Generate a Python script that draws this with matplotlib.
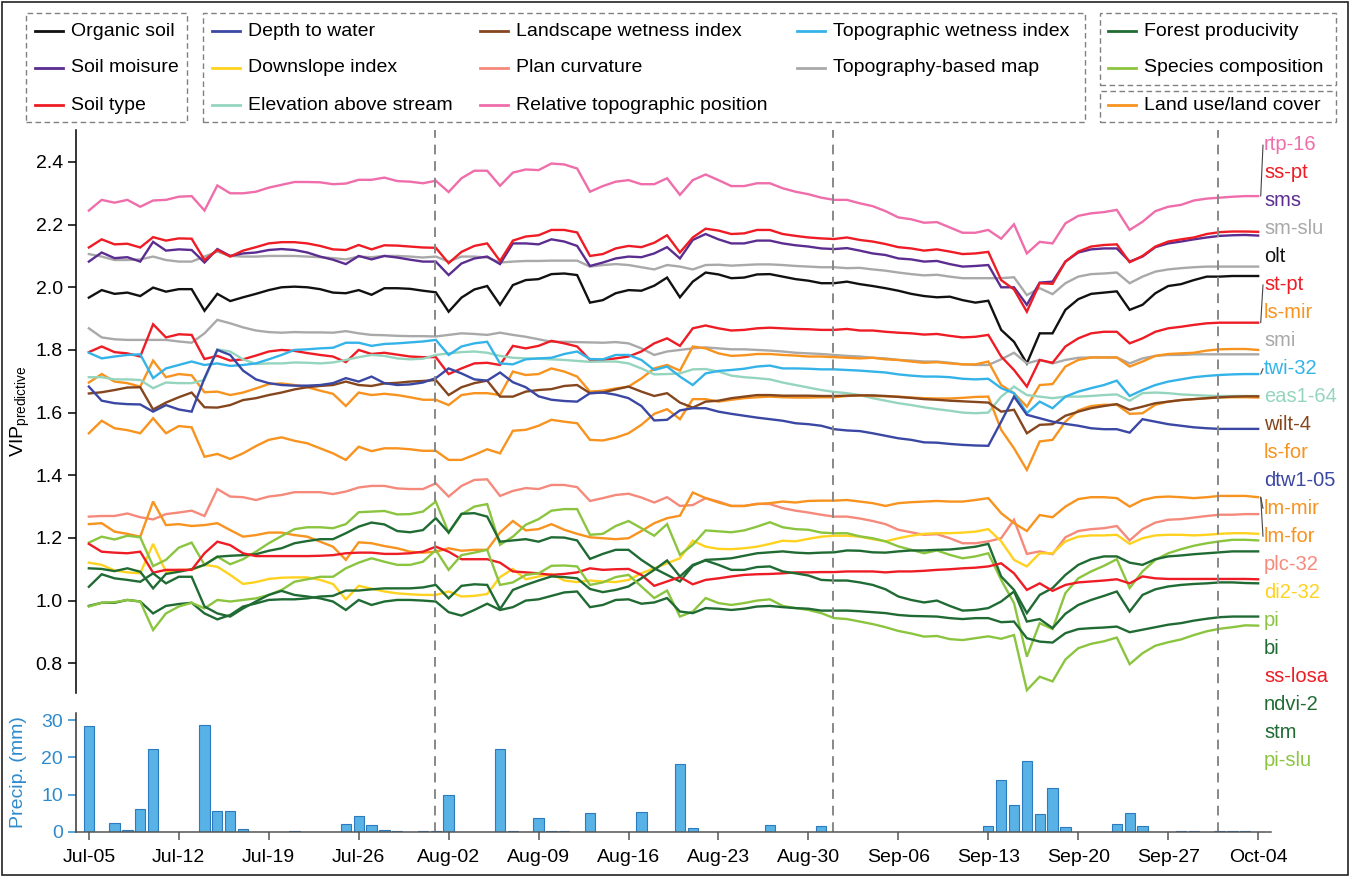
import numpy as np
import pandas as pd
import matplotlib
matplotlib.use('Agg')
import matplotlib.pyplot as plt
from matplotlib.patches import Rectangle, ConnectionPatch
from matplotlib.lines import Line2D

plt.rcParams['font.family'] = ['Liberation Sans', 'DejaVu Sans']
plt.rcParams['mathtext.fontset'] = 'custom'
plt.rcParams['mathtext.rm'] = 'Liberation Sans'
plt.rcParams['mathtext.it'] = 'Liberation Sans:italic'

# daily series, 5 July - 4 October
dates = pd.date_range('2021-07-05', '2021-10-04', freq='D')

rtp = [2.245, 2.279, 2.270, 2.279, 2.257, 2.277, 2.279, 2.289, 2.291, 2.245,
       2.325, 2.300, 2.300, 2.305, 2.318, 2.327, 2.336, 2.336, 2.335, 2.329,
       2.331, 2.343, 2.343, 2.350, 2.339, 2.337, 2.332, 2.340, 2.304, 2.348,
       2.372, 2.372, 2.324, 2.366, 2.376, 2.374, 2.395, 2.392, 2.379, 2.305,
       2.323, 2.337, 2.342, 2.329, 2.329, 2.348, 2.295, 2.342, 2.360, 2.342,
       2.323, 2.323, 2.332, 2.332, 2.316, 2.305, 2.297, 2.286, 2.279, 2.279,
       2.268, 2.259, 2.243, 2.223, 2.217, 2.206, 2.208, 2.191, 2.174, 2.174,
       2.183, 2.155, 2.201, 2.108, 2.145, 2.140, 2.204, 2.228, 2.236, 2.240,
       2.247, 2.183, 2.209, 2.243, 2.257, 2.263, 2.277, 2.283, 2.286, 2.289,
       2.291, 2.291]
ss_pt = [2.127, 2.153, 2.137, 2.139, 2.127, 2.160, 2.149, 2.156, 2.155, 2.087,
         2.119, 2.098, 2.117, 2.128, 2.140, 2.144, 2.144, 2.140, 2.132, 2.121,
         2.119, 2.135, 2.121, 2.134, 2.133, 2.130, 2.127, 2.126, 2.077, 2.113,
         2.132, 2.140, 2.084, 2.149, 2.162, 2.166, 2.183, 2.183, 2.175, 2.100,
         2.106, 2.124, 2.132, 2.128, 2.142, 2.166, 2.111, 2.159, 2.187, 2.181,
         2.170, 2.172, 2.183, 2.183, 2.170, 2.164, 2.159, 2.156, 2.154, 2.159,
         2.151, 2.146, 2.138, 2.128, 2.124, 2.117, 2.121, 2.114, 2.106, 2.108,
         2.113, 2.023, 1.993, 1.922, 2.013, 2.011, 2.082, 2.114, 2.130, 2.135,
         2.137, 2.080, 2.100, 2.130, 2.146, 2.153, 2.159, 2.170, 2.176, 2.178,
         2.178, 2.177]
sms = [2.082, 2.111, 2.093, 2.096, 2.082, 2.145, 2.117, 2.121, 2.119, 2.079,
       2.122, 2.100, 2.108, 2.111, 2.119, 2.122, 2.119, 2.111, 2.098, 2.088,
       2.074, 2.100, 2.089, 2.100, 2.095, 2.088, 2.082, 2.082, 2.039, 2.076,
       2.092, 2.098, 2.074, 2.140, 2.140, 2.137, 2.153, 2.146, 2.132, 2.068,
       2.079, 2.092, 2.098, 2.096, 2.108, 2.128, 2.092, 2.151, 2.170, 2.153,
       2.140, 2.140, 2.149, 2.149, 2.140, 2.134, 2.130, 2.124, 2.122, 2.125,
       2.117, 2.108, 2.103, 2.092, 2.089, 2.082, 2.084, 2.074, 2.066, 2.068,
       2.071, 2.000, 2.000, 1.944, 2.015, 2.018, 2.082, 2.111, 2.121, 2.124,
       2.124, 2.082, 2.098, 2.128, 2.140, 2.146, 2.153, 2.159, 2.164, 2.166,
       2.167, 2.165]
sm_slu = [2.106, 2.098, 2.087, 2.087, 2.089, 2.098, 2.087, 2.082, 2.082, 2.098,
          2.114, 2.100, 2.098, 2.098, 2.100, 2.100, 2.100, 2.098, 2.096, 2.093,
          2.089, 2.098, 2.096, 2.100, 2.100, 2.098, 2.095, 2.098, 2.082, 2.098,
          2.098, 2.095, 2.079, 2.082, 2.084, 2.084, 2.085, 2.085, 2.085, 2.066,
          2.071, 2.074, 2.071, 2.064, 2.057, 2.071, 2.066, 2.057, 2.071, 2.072,
          2.069, 2.071, 2.073, 2.073, 2.071, 2.068, 2.066, 2.064, 2.064, 2.061,
          2.062, 2.057, 2.053, 2.047, 2.042, 2.038, 2.040, 2.034, 2.029, 2.029,
          2.029, 2.029, 2.032, 1.975, 1.997, 1.978, 2.013, 2.034, 2.042, 2.044,
          2.047, 2.013, 2.034, 2.050, 2.057, 2.061, 2.064, 2.066, 2.066, 2.066,
          2.066, 2.066]
olt = [1.967, 1.991, 1.979, 1.983, 1.972, 1.999, 1.986, 1.994, 1.994, 1.925,
       1.979, 1.956, 1.968, 1.979, 1.991, 2.000, 2.002, 2.000, 1.994, 1.983,
       1.981, 1.991, 1.976, 1.997, 1.997, 1.995, 1.989, 1.984, 1.922, 1.967,
       1.993, 2.004, 1.944, 2.007, 2.023, 2.026, 2.042, 2.044, 2.039, 1.951,
       1.959, 1.981, 1.991, 1.989, 2.005, 2.031, 1.968, 2.018, 2.047, 2.041,
       2.029, 2.031, 2.041, 2.042, 2.034, 2.026, 2.021, 2.013, 2.013, 2.018,
       2.010, 2.004, 1.997, 1.989, 1.979, 1.972, 1.968, 1.970, 1.959, 1.951,
       1.957, 1.864, 1.826, 1.757, 1.853, 1.853, 1.928, 1.962, 1.979, 1.983,
       1.987, 1.928, 1.944, 1.981, 2.004, 2.010, 2.023, 2.034, 2.034, 2.036,
       2.036, 2.036]
st_pt = [1.793, 1.811, 1.793, 1.789, 1.779, 1.882, 1.840, 1.850, 1.848, 1.771,
         1.781, 1.766, 1.770, 1.782, 1.795, 1.800, 1.797, 1.790, 1.784, 1.779,
         1.761, 1.800, 1.787, 1.791, 1.785, 1.779, 1.777, 1.777, 1.723, 1.741,
         1.757, 1.759, 1.752, 1.813, 1.805, 1.813, 1.829, 1.821, 1.811, 1.768,
         1.768, 1.773, 1.779, 1.795, 1.821, 1.837, 1.813, 1.869, 1.878, 1.869,
         1.862, 1.864, 1.869, 1.871, 1.869, 1.867, 1.866, 1.864, 1.864, 1.867,
         1.862, 1.862, 1.858, 1.855, 1.853, 1.849, 1.851, 1.845, 1.840, 1.842,
         1.848, 1.779, 1.736, 1.683, 1.768, 1.759, 1.811, 1.837, 1.853, 1.858,
         1.858, 1.821, 1.837, 1.858, 1.869, 1.874, 1.880, 1.885, 1.887, 1.887,
         1.887, 1.887]
smi = [1.869, 1.840, 1.834, 1.832, 1.832, 1.832, 1.832, 1.827, 1.823, 1.853,
       1.896, 1.885, 1.872, 1.862, 1.857, 1.855, 1.857, 1.856, 1.856, 1.855,
       1.860, 1.853, 1.848, 1.847, 1.845, 1.844, 1.844, 1.843, 1.848, 1.853,
       1.851, 1.848, 1.855, 1.848, 1.842, 1.834, 1.826, 1.826, 1.825, 1.824,
       1.823, 1.825, 1.821, 1.805, 1.784, 1.795, 1.800, 1.805, 1.808, 1.805,
       1.802, 1.802, 1.800, 1.798, 1.795, 1.791, 1.789, 1.787, 1.784, 1.781,
       1.779, 1.775, 1.773, 1.768, 1.766, 1.763, 1.763, 1.759, 1.754, 1.752,
       1.752, 1.770, 1.791, 1.757, 1.768, 1.757, 1.768, 1.775, 1.776, 1.776,
       1.776, 1.757, 1.773, 1.781, 1.784, 1.784, 1.786, 1.786, 1.786, 1.786,
       1.786, 1.786]
twi = [1.791, 1.773, 1.779, 1.784, 1.786, 1.710, 1.741, 1.752, 1.763, 1.752,
       1.757, 1.749, 1.752, 1.757, 1.770, 1.784, 1.800, 1.802, 1.805, 1.807,
       1.823, 1.823, 1.813, 1.819, 1.821, 1.824, 1.827, 1.832, 1.784, 1.811,
       1.821, 1.826, 1.757, 1.754, 1.770, 1.773, 1.775, 1.787, 1.795, 1.771,
       1.770, 1.784, 1.784, 1.768, 1.736, 1.747, 1.715, 1.688, 1.725, 1.733,
       1.736, 1.740, 1.747, 1.750, 1.741, 1.741, 1.740, 1.738, 1.738, 1.736,
       1.734, 1.731, 1.728, 1.722, 1.718, 1.715, 1.715, 1.713, 1.708, 1.706,
       1.708, 1.678, 1.662, 1.598, 1.635, 1.614, 1.651, 1.667, 1.678, 1.688,
       1.702, 1.653, 1.672, 1.688, 1.699, 1.706, 1.713, 1.717, 1.720, 1.722,
       1.723, 1.723]
eas = [1.713, 1.713, 1.706, 1.706, 1.704, 1.678, 1.696, 1.694, 1.694, 1.704,
       1.802, 1.795, 1.770, 1.755, 1.757, 1.757, 1.760, 1.759, 1.757, 1.760,
       1.768, 1.777, 1.784, 1.781, 1.773, 1.770, 1.772, 1.784, 1.789, 1.793,
       1.795, 1.791, 1.781, 1.775, 1.773, 1.772, 1.770, 1.768, 1.765, 1.762,
       1.763, 1.763, 1.757, 1.741, 1.722, 1.723, 1.725, 1.738, 1.739, 1.731,
       1.718, 1.713, 1.710, 1.706, 1.696, 1.688, 1.680, 1.672, 1.666, 1.662,
       1.656, 1.646, 1.638, 1.630, 1.624, 1.617, 1.611, 1.606, 1.600, 1.598,
       1.600, 1.651, 1.683, 1.656, 1.651, 1.646, 1.651, 1.651, 1.653, 1.656,
       1.658, 1.638, 1.662, 1.664, 1.662, 1.658, 1.656, 1.654, 1.653, 1.653,
       1.653, 1.653]
wilt = [1.661, 1.665, 1.672, 1.680, 1.681, 1.610, 1.632, 1.649, 1.664, 1.617,
        1.616, 1.624, 1.640, 1.646, 1.656, 1.664, 1.674, 1.681, 1.685, 1.688,
        1.699, 1.688, 1.685, 1.693, 1.695, 1.699, 1.701, 1.704, 1.656, 1.681,
        1.694, 1.702, 1.651, 1.651, 1.667, 1.672, 1.675, 1.685, 1.688, 1.662,
        1.664, 1.674, 1.683, 1.667, 1.653, 1.662, 1.632, 1.616, 1.635, 1.638,
        1.646, 1.651, 1.656, 1.656, 1.654, 1.654, 1.654, 1.653, 1.653, 1.654,
        1.655, 1.655, 1.653, 1.650, 1.647, 1.643, 1.641, 1.638, 1.636, 1.634,
        1.632, 1.603, 1.609, 1.534, 1.561, 1.563, 1.590, 1.603, 1.614, 1.621,
        1.627, 1.609, 1.619, 1.630, 1.635, 1.640, 1.643, 1.646, 1.649, 1.651,
        1.652, 1.652]
ls_mir = [1.696, 1.723, 1.699, 1.694, 1.683, 1.766, 1.713, 1.723, 1.719, 1.665,
          1.667, 1.656, 1.664, 1.677, 1.691, 1.693, 1.688, 1.681, 1.670, 1.660,
          1.621, 1.664, 1.656, 1.660, 1.656, 1.649, 1.641, 1.641, 1.624, 1.656,
          1.662, 1.662, 1.656, 1.731, 1.720, 1.723, 1.741, 1.731, 1.715, 1.667,
          1.670, 1.677, 1.683, 1.709, 1.741, 1.752, 1.734, 1.811, 1.805, 1.789,
          1.781, 1.783, 1.787, 1.787, 1.784, 1.782, 1.779, 1.779, 1.777, 1.775,
          1.773, 1.775, 1.770, 1.768, 1.763, 1.759, 1.761, 1.757, 1.754, 1.754,
          1.763, 1.688, 1.662, 1.619, 1.688, 1.691, 1.747, 1.768, 1.776, 1.776,
          1.776, 1.747, 1.763, 1.781, 1.787, 1.789, 1.791, 1.798, 1.802, 1.803,
          1.803, 1.800]
ls_for = [1.534, 1.574, 1.550, 1.544, 1.534, 1.582, 1.534, 1.557, 1.553, 1.459,
          1.468, 1.452, 1.470, 1.493, 1.513, 1.521, 1.510, 1.502, 1.486, 1.470,
          1.449, 1.491, 1.477, 1.486, 1.486, 1.483, 1.478, 1.478, 1.449, 1.449,
          1.465, 1.483, 1.470, 1.542, 1.545, 1.558, 1.577, 1.571, 1.566, 1.513,
          1.511, 1.520, 1.534, 1.561, 1.596, 1.611, 1.579, 1.643, 1.643, 1.635,
          1.641, 1.646, 1.649, 1.651, 1.649, 1.648, 1.648, 1.649, 1.649, 1.653,
          1.655, 1.653, 1.652, 1.651, 1.648, 1.646, 1.645, 1.645, 1.647, 1.650,
          1.651, 1.545, 1.486, 1.417, 1.508, 1.513, 1.571, 1.607, 1.621, 1.625,
          1.625, 1.596, 1.598, 1.625, 1.635, 1.640, 1.643, 1.646, 1.648, 1.649,
          1.649, 1.648]
dtw = [1.683, 1.638, 1.630, 1.627, 1.626, 1.603, 1.624, 1.610, 1.603, 1.710,
       1.800, 1.784, 1.734, 1.706, 1.694, 1.688, 1.686, 1.686, 1.688, 1.694,
       1.710, 1.699, 1.715, 1.694, 1.688, 1.690, 1.696, 1.710, 1.741, 1.725,
       1.706, 1.702, 1.728, 1.697, 1.681, 1.652, 1.641, 1.637, 1.635, 1.662,
       1.664, 1.657, 1.646, 1.621, 1.575, 1.577, 1.607, 1.614, 1.614, 1.603,
       1.596, 1.590, 1.584, 1.579, 1.574, 1.566, 1.563, 1.558, 1.547, 1.543,
       1.541, 1.534, 1.526, 1.518, 1.513, 1.505, 1.504, 1.500, 1.497, 1.495,
       1.494, 1.571, 1.651, 1.593, 1.582, 1.571, 1.564, 1.558, 1.550, 1.547,
       1.547, 1.536, 1.579, 1.571, 1.563, 1.558, 1.553, 1.550, 1.548, 1.548,
       1.548, 1.548]
lm = [1.244, 1.247, 1.220, 1.213, 1.204, 1.316, 1.241, 1.244, 1.238, 1.241,
      1.247, 1.225, 1.204, 1.209, 1.217, 1.217, 1.209, 1.204, 1.188, 1.172,
      1.130, 1.186, 1.183, 1.174, 1.167, 1.156, 1.153, 1.156, 1.167, 1.159,
      1.162, 1.162, 1.217, 1.254, 1.224, 1.228, 1.244, 1.226, 1.213, 1.202,
      1.199, 1.196, 1.199, 1.222, 1.247, 1.263, 1.271, 1.345, 1.327, 1.313,
      1.302, 1.302, 1.308, 1.311, 1.316, 1.313, 1.318, 1.319, 1.319, 1.321,
      1.316, 1.311, 1.302, 1.311, 1.314, 1.316, 1.318, 1.316, 1.316, 1.321,
      1.327, 1.279, 1.247, 1.222, 1.273, 1.266, 1.300, 1.324, 1.330, 1.330,
      1.327, 1.300, 1.321, 1.330, 1.332, 1.330, 1.327, 1.330, 1.334, 1.334,
      1.334, 1.330]
plc = [1.268, 1.270, 1.270, 1.278, 1.266, 1.259, 1.276, 1.281, 1.287, 1.270,
       1.356, 1.332, 1.330, 1.321, 1.332, 1.337, 1.346, 1.346, 1.346, 1.340,
       1.348, 1.361, 1.366, 1.366, 1.358, 1.356, 1.356, 1.374, 1.332, 1.366,
       1.385, 1.387, 1.334, 1.350, 1.359, 1.356, 1.369, 1.369, 1.362, 1.318,
       1.327, 1.337, 1.341, 1.329, 1.313, 1.330, 1.302, 1.305, 1.327, 1.316,
       1.302, 1.302, 1.309, 1.308, 1.295, 1.287, 1.281, 1.274, 1.268, 1.268,
       1.262, 1.254, 1.244, 1.226, 1.218, 1.210, 1.212, 1.199, 1.183, 1.183,
       1.189, 1.199, 1.258, 1.149, 1.157, 1.148, 1.202, 1.222, 1.228, 1.231,
       1.238, 1.192, 1.228, 1.249, 1.258, 1.260, 1.265, 1.270, 1.274, 1.274,
       1.276, 1.276]
di2 = [1.121, 1.114, 1.096, 1.090, 1.087, 1.181, 1.092, 1.098, 1.098, 1.114,
       1.108, 1.082, 1.053, 1.059, 1.069, 1.073, 1.074, 1.074, 1.066, 1.053,
       1.004, 1.047, 1.038, 1.029, 1.023, 1.020, 1.018, 1.018, 1.029, 1.013,
       1.015, 1.021, 1.075, 1.101, 1.068, 1.077, 1.085, 1.064, 1.059, 1.064,
       1.061, 1.059, 1.066, 1.087, 1.103, 1.119, 1.135, 1.191, 1.172, 1.165,
       1.164, 1.167, 1.172, 1.181, 1.191, 1.189, 1.197, 1.204, 1.207, 1.207,
       1.204, 1.196, 1.189, 1.199, 1.207, 1.213, 1.215, 1.215, 1.217, 1.220,
       1.228, 1.189, 1.130, 1.109, 1.151, 1.151, 1.189, 1.204, 1.208, 1.208,
       1.210, 1.181, 1.199, 1.208, 1.210, 1.210, 1.208, 1.210, 1.213, 1.215,
       1.215, 1.213]
pi = [1.185, 1.204, 1.195, 1.207, 1.202, 1.110, 1.130, 1.169, 1.185, 1.114,
      1.140, 1.116, 1.132, 1.156, 1.183, 1.206, 1.228, 1.234, 1.234, 1.231,
      1.244, 1.282, 1.284, 1.286, 1.275, 1.276, 1.284, 1.316, 1.217, 1.275,
      1.300, 1.308, 1.178, 1.204, 1.242, 1.260, 1.287, 1.292, 1.292, 1.210,
      1.213, 1.238, 1.254, 1.231, 1.207, 1.244, 1.146, 1.178, 1.224, 1.221,
      1.218, 1.224, 1.236, 1.250, 1.234, 1.228, 1.226, 1.217, 1.215, 1.215,
      1.205, 1.199, 1.189, 1.173, 1.162, 1.151, 1.160, 1.146, 1.135, 1.141,
      1.151, 1.066, 0.992, 0.821, 0.928, 0.909, 1.024, 1.071, 1.093, 1.111,
      1.132, 1.040, 1.093, 1.130, 1.151, 1.164, 1.175, 1.183, 1.189, 1.194,
      1.194, 1.192]
bi = [1.103, 1.101, 1.094, 1.103, 1.092, 1.039, 1.085, 1.092, 1.100, 1.114,
      1.140, 1.143, 1.145, 1.148, 1.159, 1.167, 1.183, 1.190, 1.196, 1.196,
      1.215, 1.236, 1.249, 1.243, 1.222, 1.218, 1.225, 1.263, 1.217, 1.277,
      1.279, 1.268, 1.188, 1.192, 1.196, 1.188, 1.202, 1.201, 1.192, 1.133,
      1.149, 1.162, 1.162, 1.130, 1.103, 1.082, 1.061, 1.111, 1.130, 1.132,
      1.135, 1.143, 1.151, 1.154, 1.157, 1.153, 1.151, 1.153, 1.154, 1.160,
      1.159, 1.154, 1.153, 1.157, 1.160, 1.160, 1.162, 1.163, 1.167, 1.172,
      1.181, 1.077, 1.034, 0.960, 1.018, 1.040, 1.082, 1.114, 1.132, 1.141,
      1.141, 1.121, 1.114, 1.132, 1.141, 1.144, 1.148, 1.151, 1.154, 1.157,
      1.157, 1.157]
ss_losa = [1.181, 1.156, 1.153, 1.151, 1.156, 1.089, 1.098, 1.098, 1.098, 1.151,
           1.188, 1.177, 1.151, 1.142, 1.142, 1.142, 1.142, 1.142, 1.143, 1.145,
           1.151, 1.153, 1.153, 1.149, 1.149, 1.151, 1.156, 1.172, 1.156, 1.132,
           1.132, 1.132, 1.121, 1.093, 1.090, 1.087, 1.082, 1.085, 1.090, 1.103,
           1.098, 1.100, 1.101, 1.082, 1.047, 1.061, 1.075, 1.052, 1.066, 1.071,
           1.077, 1.082, 1.084, 1.085, 1.087, 1.090, 1.090, 1.091, 1.091, 1.093,
           1.093, 1.093, 1.090, 1.093, 1.093, 1.095, 1.098, 1.100, 1.103, 1.105,
           1.109, 1.119, 1.087, 1.034, 1.055, 1.031, 1.050, 1.058, 1.061, 1.064,
           1.068, 1.055, 1.077, 1.071, 1.069, 1.069, 1.069, 1.069, 1.069, 1.069,
           1.069, 1.068]
ndvi = [0.983, 0.993, 0.993, 1.002, 0.997, 0.959, 0.983, 0.989, 0.993, 0.959,
        0.940, 0.954, 0.981, 0.991, 1.002, 1.004, 1.004, 1.007, 1.013, 1.015,
        1.032, 1.032, 1.036, 1.039, 1.039, 1.039, 1.042, 1.050, 1.007, 1.047,
        1.052, 1.050, 0.973, 1.034, 1.050, 1.064, 1.077, 1.075, 1.071, 1.037,
        1.027, 1.034, 1.045, 1.071, 1.098, 1.128, 1.077, 1.114, 1.128, 1.114,
        1.098, 1.098, 1.107, 1.109, 1.093, 1.087, 1.080, 1.066, 1.064, 1.064,
        1.058, 1.050, 1.036, 1.013, 1.002, 0.994, 1.000, 0.983, 0.968, 0.970,
        0.976, 0.997, 1.029, 0.933, 0.941, 0.912, 0.958, 0.986, 1.002, 1.015,
        1.029, 0.965, 1.018, 1.036, 1.045, 1.050, 1.053, 1.055, 1.058, 1.058,
        1.056, 1.055]
stm = [1.044, 1.084, 1.071, 1.066, 1.060, 1.087, 1.055, 1.076, 1.076, 0.981,
       0.959, 0.949, 0.975, 0.997, 1.018, 1.031, 1.018, 1.013, 1.007, 0.997,
       0.970, 1.002, 0.986, 0.997, 1.002, 1.002, 1.000, 0.997, 0.963, 0.952,
       0.970, 0.990, 0.970, 0.979, 1.000, 1.004, 1.015, 1.026, 1.029, 0.979,
       0.986, 1.002, 1.004, 0.990, 0.994, 1.008, 0.965, 0.960, 0.976, 0.974,
       0.970, 0.974, 0.981, 0.983, 0.979, 0.976, 0.974, 0.968, 0.968, 0.968,
       0.966, 0.963, 0.960, 0.954, 0.951, 0.950, 0.949, 0.944, 0.941, 0.944,
       0.944, 0.931, 0.933, 0.880, 0.869, 0.866, 0.896, 0.909, 0.912, 0.914,
       0.917, 0.899, 0.907, 0.915, 0.923, 0.928, 0.936, 0.942, 0.947, 0.949,
       0.949, 0.949]
pi_slu = [0.981, 0.993, 0.995, 1.002, 0.997, 0.906, 0.959, 0.981, 0.993, 0.975,
          1.002, 0.997, 1.002, 1.007, 1.018, 1.034, 1.060, 1.068, 1.076, 1.076,
          1.103, 1.121, 1.135, 1.124, 1.114, 1.114, 1.124, 1.161, 1.098, 1.145,
          1.153, 1.162, 1.050, 1.058, 1.082, 1.087, 1.111, 1.112, 1.109, 1.050,
          1.058, 1.075, 1.082, 1.045, 1.008, 1.032, 0.949, 0.965, 1.008, 0.992,
          0.986, 0.992, 1.000, 1.004, 0.983, 0.976, 0.970, 0.960, 0.944, 0.941,
          0.933, 0.925, 0.915, 0.903, 0.895, 0.885, 0.887, 0.877, 0.874, 0.880,
          0.886, 0.878, 0.890, 0.714, 0.757, 0.742, 0.812, 0.848, 0.862, 0.870,
          0.882, 0.797, 0.832, 0.856, 0.867, 0.876, 0.890, 0.902, 0.910, 0.915,
          0.921, 0.920]

precip = [28.3, 0, 2.4, 0.5, 6.2, 22.2, 0, 0, 0, 28.8,
          5.5, 5.6, 0.7, 0, 0, 0, 0.4, 0, 0, 0,
          2.1, 4.4, 1.9, 0.5, 0.4, 0, 0.2, 0.3, 9.8, 0,
          0, 0.1, 22.2, 0.2, 0, 3.7, 0.3, 0.2, 0, 5.1,
          0, 0, 0, 5.3, 0, 0, 18.3, 1.1, 0, 0,
          0, 0, 0, 2.0, 0, 0, 0, 1.6, 0, 0.1,
          0, 0, 0, 0, 0, 0, 0, 0, 0, 0,
          1.5, 14.0, 7.3, 19.1, 4.8, 11.7, 1.4, 0, 0, 0,
          2.2, 5.1, 1.7, 0, 0, 0.4, 0.15, 0, 0.2, 0.15,
          0.2, 0]

c = {
    'black': '#111111', 'purple': '#5B2D90', 'red': '#EE1C25',
    'blue': '#3A47A3', 'yellow': '#FFD21F', 'mint': '#95D5BE',
    'brown': '#85461E', 'salmon': '#F58A7C', 'pink': '#EF6DAA',
    'cyan': '#34B3E8', 'gray': '#A9A9A9', 'dgreen': '#1F6B33',
    'lgreen': '#8BC540', 'orange': '#F7931E',
}

series = [
    (rtp, c['pink']), (sm_slu, c['gray']), (sms, c['purple']), (ss_pt, c['red']),
    (olt, c['black']), (smi, c['gray']), (st_pt, c['red']), (ls_mir, c['orange']),
    (eas, c['mint']), (twi, c['cyan']), (ls_for, c['orange']), (wilt, c['brown']),
    (dtw, c['blue']), (plc, c['salmon']), (lm, c['orange']), (di2, c['yellow']),
    (pi, c['lgreen']), (bi, c['dgreen']), (ss_losa, c['red']), (ndvi, c['dgreen']),
    (pi_slu, c['lgreen']), (stm, c['dgreen']),
]

end_labels = ['rtp-16', 'ss-pt', 'sms', 'sm-slu', 'olt', 'st-pt', 'ls-mir', 'smi',
              'twi-32', 'eas1-64', 'wilt-4', 'ls-for', 'dtw1-05', 'lm-mir', 'lm-for',
              'plc-32', 'di2-32', 'pi', 'bi', 'ss-losa', 'ndvi-2', 'stm', 'pi-slu']
end_colors = ['pink', 'red', 'purple', 'gray', 'black', 'red', 'orange', 'gray',
              'cyan', 'mint', 'brown', 'orange', 'blue', 'orange', 'orange',
              'salmon', 'yellow', 'lgreen', 'dgreen', 'red', 'dgreen', 'dgreen', 'lgreen']
# labels that get a leader line back to their curve
leaders = {'rtp-16': rtp, 'st-pt': st_pt, 'twi-32': twi, 'lm-mir': lm, 'lm-for': lm}

legend_cols = [
    (35, [('Organic soil', 'black'), ('Soil moisure', 'purple'), ('Soil type', 'red')]),
    (212, [('Depth to water', 'blue'), ('Downslope index', 'yellow'),
           ('Elevation above stream', 'mint')]),
    (480, [('Landscape wetness index', 'brown'), ('Plan curvature', 'salmon'),
           ('Relative topographic position', 'pink')]),
    (797, [('Topographic wetness index', 'cyan'), ('Topography-based map', 'gray')]),
    (1108, [('Forest producivity', 'dgreen'), ('Species composition', 'lgreen'),
            ('Land use/land cover', 'orange')]),
]

for s in series:
    assert len(s[0]) == len(dates)
assert len(precip) == len(dates)

W, H = 1351, 877
fig = plt.figure(figsize=(W / 100, H / 100), dpi=100)


def fx(px):
    return px / W


def fy(py):
    return 1 - py / H


x = np.arange(len(dates))
ax = fig.add_axes([fx(76), fy(693), fx(1271) - fx(76), fy(130) - fy(693)])
axb = fig.add_axes([fx(76), fy(832), fx(1271) - fx(76), fy(713) - fy(832)])

for vals, col in series:
    ax.plot(x, vals, color=col, lw=1.7, solid_joinstyle='miter')

ax.set_xlim(-1, 92)
ax.set_ylim(0.705, 2.502)
ax.set_yticks(np.arange(0.8, 2.41, 0.2))
ax.set_yticklabels([f'{v:.1f}' for v in np.arange(0.8, 2.41, 0.2)])
ax.set_xticks([])
for side in ['top', 'right', 'bottom']:
    ax.spines[side].set_visible(False)
ax.spines['left'].set_linewidth(1.1)
ax.tick_params(axis='y', labelsize=14, length=6, width=1.1, direction='out')
ax.set_ylabel(r'VIP$_{\mathrm{predictive}}$', fontsize=14)
ax.yaxis.set_label_coords(-0.037, 0.5)

# precipitation
axb.bar(x, precip, width=0.8, color='#58B2E5', edgecolor='#2B7BBE', linewidth=0.8)
axb.set_xlim(-1, 92)
axb.set_ylim(0, 31.9)
axb.set_yticks([0, 10, 20, 30])
tick_pos = x[::7]
axb.set_xticks(tick_pos)
axb.set_xticklabels(dates[::7].strftime('%b-%d'))
axb.tick_params(axis='x', labelsize=14, length=6, width=1.1, color='#555555', pad=6)
axb.tick_params(axis='y', labelsize=14, length=6, width=1.1, colors='#2F8ACB')
axb.spines['left'].set_color('#333333')
axb.spines['bottom'].set_color('#555555')
axb.spines['left'].set_linewidth(1.1)
axb.spines['bottom'].set_linewidth(1.1)
for side in ['top', 'right']:
    axb.spines[side].set_visible(False)
axb.set_ylabel('Precip. (mm)', fontsize=14, color='#2F8ACB')
axb.yaxis.set_label_coords(-0.041, 0.5)

# month boundaries, drawn through both panels
span = (fy(130) - fy(832)) / (fy(713) - fy(832))
for xi in x[dates.day == 1]:
    axb.axvline(xi - 0.1, ymin=0, ymax=span, clip_on=False, color='#888888',
                lw=1.4, ls=(0, (5, 3.5)), zorder=0)

# labels along the right edge
label_y = np.linspace(145, 760, len(end_labels))
for name, cname, ly in zip(end_labels, end_colors, label_y):
    fig.text(fx(1264), fy(ly), name, color=c[cname], fontsize=14.5, va='center', ha='left')
    if name in leaders:
        con = ConnectionPatch(xyA=(x[-1] + 0.2, leaders[name][-1]), coordsA=ax.transData,
                              xyB=(fx(1263), fy(ly)), coordsB=fig.transFigure,
                              color='#444444', lw=0.8)
        fig.add_artist(con)

# legend blocks
boxes = [(26, 13, 187, 122), (203, 13, 1085, 122), (1100, 13, 1336, 85), (1100, 91, 1336, 122)]
for x0, y0, x1, y1 in boxes:
    fig.add_artist(Rectangle((fx(x0), fy(y1)), fx(x1) - fx(x0), fy(y0) - fy(y1),
                             transform=fig.transFigure, fill=False, edgecolor='#808080',
                             lw=1.0, ls=(0, (4, 2.5))))
rows = [31, 68, 105]
for hx, items in legend_cols:
    for (txt, cname), ry in zip(items, rows):
        fig.add_artist(Line2D([fx(hx), fx(hx + 28)], [fy(ry), fy(ry)],
                              transform=fig.transFigure, color=c[cname], lw=2))
        fig.text(fx(hx + 36), fy(ry), txt, fontsize=14, va='center', ha='left')

# outer frame
fig.add_artist(Rectangle((fx(2), fy(875)), fx(1348) - fx(2), fy(2) - fy(875),
                         transform=fig.transFigure, fill=False, edgecolor='#222222', lw=1.2))

fig.savefig('out.png', dpi=100)
